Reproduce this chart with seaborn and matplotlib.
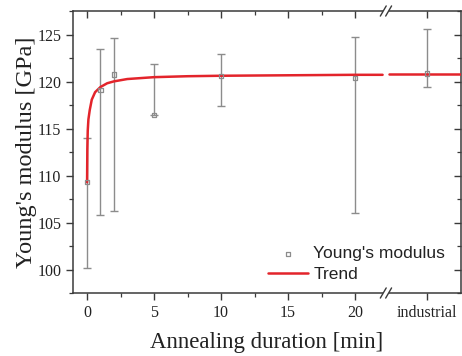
import numpy as np
import pandas as pd
import matplotlib
matplotlib.use("Agg")
import matplotlib.pyplot as plt
import matplotlib.transforms as mtransforms
import seaborn as sns

# ---- data ----
point_x = [0, 1, 2, 5, 10, 20, 25.35]
point_mean = [109.3, 119.1, 120.8, 116.5, 120.6, 120.4, 120.9]
point_low = [100.2, 105.8, 106.2, 116.5, 117.4, 106.0, 119.4]
point_high = [114.0, 123.5, 124.7, 121.9, 123.0, 124.75, 125.6]

trend_t = [0, 0.02, 0.05, 0.1, 0.2, 0.35, 0.6, 1.0, 1.5, 2.0, 3.0, 5.0, 7.5, 10, 15, 20, 22.05]
trend_v = [109.3, 112.8, 114.8, 116.0, 117.0, 118.1, 118.9, 119.45, 119.85, 120.05, 120.3,
           120.5, 120.6, 120.65, 120.7, 120.75, 120.75]
trend2_t = [22.55, 27.9]
trend2_v = [120.8, 120.8]

xtick_pos = [0, 5, 10, 15, 20, 25.35]
xtick_labels = ["0", "5", "10", "15", "20", "industrial"]
xminor_pos = [2.5, 7.5, 12.5, 17.5]
ytick_pos = [100, 105, 110, 115, 120, 125]
break_x = 22.3

# ---- figure ----
sns.set_style("ticks")
plt.rcParams["font.family"] = ["Liberation Serif", "DejaVu Serif"]

fig = plt.figure(figsize=(4.62, 3.56), dpi=100)
ax = fig.add_axes([73 / 462, 1 - 293 / 356, 388 / 462, 282 / 356])

red = "#e3242b"
gray = "#8c8c8c"

pts = pd.DataFrame({"x": point_x, "y": point_mean})
tr1 = pd.DataFrame({"t": trend_t, "v": trend_v})
tr2 = pd.DataFrame({"t": trend2_t, "v": trend2_v})

yerr = np.array([np.array(point_mean) - np.array(point_low),
                 np.array(point_high) - np.array(point_mean)])
ax.errorbar(point_x, point_mean, yerr=yerr, fmt="none", ecolor=gray,
            elinewidth=1.0, capsize=3, capthick=1.0, zorder=2)

sns.lineplot(data=tr1, x="t", y="v", ax=ax, color=red, linewidth=1.8,
             zorder=3, label="Trend", sort=False)
sns.lineplot(data=tr2, x="t", y="v", ax=ax, color=red, linewidth=1.8,
             zorder=3, sort=False)
sns.scatterplot(data=pts, x="x", y="y", ax=ax, marker="s", s=10,
                facecolor="none", edgecolor=gray, linewidth=0.9, zorder=4,
                label="Young's modulus")

ax.set_xlim(-1.05, 27.9)
ax.set_ylim(97.55, 127.55)

ax.set_xticks(xtick_pos)
ax.set_xticklabels(xtick_labels)
ax.set_xticks(xminor_pos, minor=True)
ax.set_yticks(ytick_pos)
ax.set_yticks(np.arange(97.5, 128, 2.5), minor=True)

spine_c = "#3a3a3a"
for s in ax.spines.values():
    s.set_visible(True)
    s.set_color(spine_c)
    s.set_linewidth(1.1)

ax.tick_params(axis="both", which="major", labelsize=11.5, length=5,
               width=1.0, color=spine_c, labelcolor="#222222", direction="out")
ax.tick_params(axis="both", which="minor", length=3, width=0.9, color=spine_c,
               direction="out")
ax.tick_params(top=True, right=True, which="both")
for t in ax.xaxis.get_major_ticks() + ax.xaxis.get_minor_ticks():
    t.tick2line.set_marker(3)
for t in ax.yaxis.get_major_ticks() + ax.yaxis.get_minor_ticks():
    t.tick2line.set_marker(0)

ax.set_xlabel("Annealing duration [min]", fontsize=16.5, labelpad=8, color="#222222")
ax.set_ylabel("Young's modulus [GPa]", fontsize=17.5, labelpad=0, color="#222222")

# break marks on top and bottom spines
trans = mtransforms.blended_transform_factory(ax.transData, ax.transAxes)
for yb in (0.0, 1.0):
    ax.plot([break_x - 0.22, break_x + 0.22], [yb, yb], transform=trans,
            color="white", linewidth=3, clip_on=False, zorder=6,
            solid_capstyle="butt")
    for dx in (-0.2, 0.2):
        ax.plot([break_x + dx - 0.22, break_x + dx + 0.22], [yb - 0.018, yb + 0.018],
                transform=trans, color=spine_c, linewidth=1.0, clip_on=False,
                zorder=7)

# legend
handles, labels = ax.get_legend_handles_labels()
order = [labels.index("Young's modulus"), labels.index("Trend")]
leg = ax.legend([handles[i] for i in order], [labels[i] for i in order],
                loc="lower left", bbox_to_anchor=((268 - 73) / 388, 0.04),
                frameon=False, handlelength=2.3,
                handletextpad=0.3, labelspacing=0.3, borderpad=0,
                borderaxespad=0, prop={"family": "Liberation Sans", "size": 12.5})
for txt in leg.get_texts():
    txt.set_color("#222222")

fig.savefig("out.png", dpi=100)
